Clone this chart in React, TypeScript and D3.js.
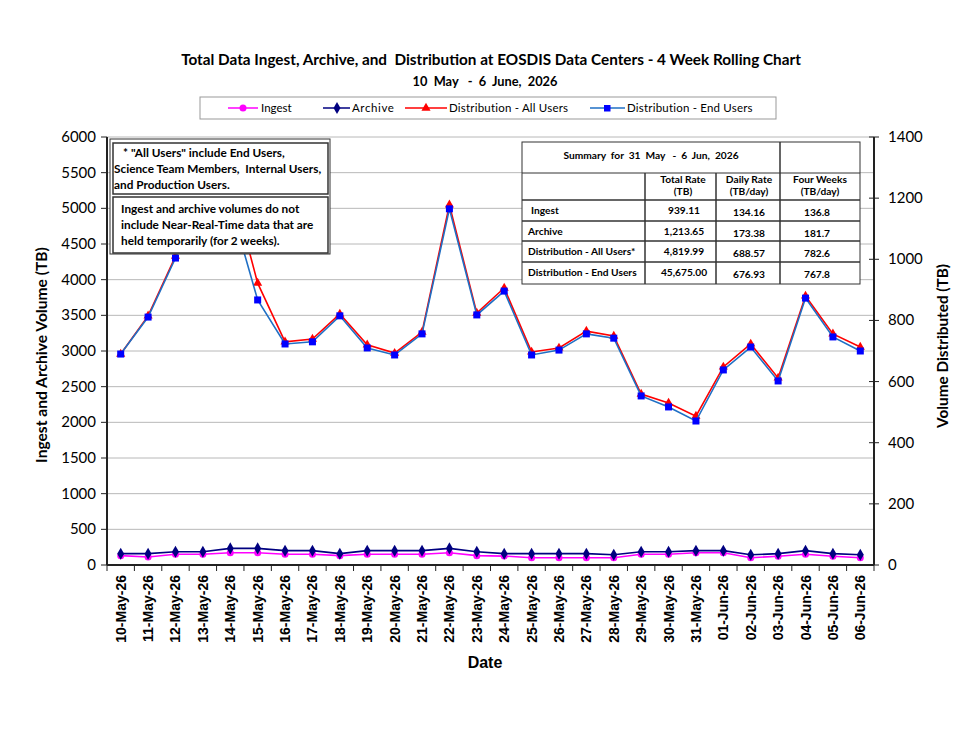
import React from "react";
import * as d3 from "d3";

const dates = ["10-May-26","11-May-26","12-May-26","13-May-26","14-May-26","15-May-26","16-May-26","17-May-26","18-May-26","19-May-26","20-May-26","21-May-26","22-May-26","23-May-26","24-May-26","25-May-26","26-May-26","27-May-26","28-May-26","29-May-26","30-May-26","31-May-26","01-Jun-26","02-Jun-26","03-Jun-26","04-Jun-26","05-Jun-26","06-Jun-26"];
const ingest = [131,112,151,151,171,171,151,151,131,151,151,151,171,131,125,102,102,102,102,151,151,171,171,102,123,151,123,102];
const archive = [159,159,186,186,233,233,201,201,159,201,201,201,233,186,159,159,159,159,143,186,186,201,201,143,159,201,159,143];
const distAll = [690,815,1010,1320,1260,922,730,739,821,720,693,762,1178,824,906,697,710,765,749,559,530,487,648,723,612,880,756,713];
const distEnd = [690,811,1004,1300,1180,867,723,730,815,710,687,756,1165,818,896,687,703,756,742,553,517,471,638,713,602,873,746,700];
const leftTicks = [0,500,1000,1500,2000,2500,3000,3500,4000,4500,5000,5500,6000];
const rightTicks = [0,200,400,600,800,1000,1200,1400];
const tableLabels = ["Ingest","Archive","Distribution - All Users*","Distribution - End Users"];
const tableTotal = ["939.11","1,213.65","4,819.99","45,675.00"];
const tableDaily = ["134.16","173.38","688.57","676.93"];
const tableFour = ["136.8","181.7","782.6","767.8"];

const CAL = "Lato, 'Open Sans', sans-serif";
const ARIAL = "'Liberation Sans', Arial, sans-serif";

export default function App() {
  const L = 107, R = 874, T = 137, B = 565;
  const x = d3.scaleBand<string>().domain(dates).range([L, R]);
  const cx = (i: number) => (x(dates[i]) as number) + x.bandwidth() / 2;
  const yL = d3.scaleLinear().domain([0, 6000]).range([B, T]);
  const yR = d3.scaleLinear().domain([0, 1400]).range([B, T]);
  const lineL = d3.line<number>().x((_, i) => cx(i)).y((d) => yL(d));
  const lineR = d3.line<number>().x((_, i) => cx(i)).y((d) => yR(d));
  const diamond = d3.symbol().type(d3.symbolDiamond).size(42)() as string;
  const tri = d3.symbol().type(d3.symbolTriangle).size(36)() as string;

  const MAG = "#ff00ff", NAVY = "#000080", RED = "#ff0000", BLUE = "#1f6fc5", SQ = "#0000ff";

  const tx = [522, 645, 716, 780, 860];
  const ty = [142, 173, 200, 221, 241, 262, 284];

  return (
    <svg width={972} height={729} style={{ position: "absolute", left: 0, top: 0, background: "#fff" }}>
      <rect width={972} height={729} fill="#fff" />
      <text x={491} y={65} textAnchor="middle" fontFamily={CAL} fontWeight="bold" fontSize={15.3} fill="#000" style={{ whiteSpace: "pre" }}>
        {"Total Data Ingest, Archive, and  Distribution at EOSDIS Data Centers - 4 Week Rolling Chart"}
      </text>
      <text x={485} y={86} textAnchor="middle" fontFamily={CAL} fontWeight="bold" fontSize={12.8} fill="#000" style={{ whiteSpace: "pre" }}>
        {"10  May   -  6  June,  2026"}
      </text>

      <rect x={200} y={97} width={576} height={22} fill="#fff" stroke="#999" />
      <g fontFamily={CAL} fontSize={11.5} fill="#000">
        <line x1={228} x2={258} y1={108} y2={108} stroke={MAG} strokeWidth={1.5} />
        <circle cx={243} cy={108} r={3.5} fill={MAG} />
        <text x={261} y={112}>Ingest</text>
        <line x1={323} x2={350} y1={108} y2={108} stroke={NAVY} strokeWidth={1.5} />
        <path d={diamond} transform="translate(337,108)" fill={NAVY} />
        <text x={352} y={112} letterSpacing={0.6}>Archive</text>
        <line x1={405} x2={447} y1={108} y2={108} stroke={RED} strokeWidth={1.5} />
        <path d={tri} transform="translate(426,108)" fill={RED} />
        <text x={449} y={112} letterSpacing={0.2}>Distribution - All Users</text>
        <line x1={590} x2={625} y1={108} y2={108} stroke={BLUE} strokeWidth={1.5} />
        <rect x={604} y={105} width={6.5} height={6.5} fill={SQ} />
        <text x={627} y={112} letterSpacing={0.2}>Distribution - End Users</text>
      </g>

      {leftTicks.map((t) => (
        <line key={"g" + t} x1={L} x2={R} y1={yL(t)} y2={yL(t)} stroke="#b8b8b8" strokeWidth={1} />
      ))}

      <line x1={L} x2={L} y1={T} y2={B} stroke="#222" strokeWidth={2} />
      <line x1={R} x2={R} y1={T} y2={B} stroke="#222" strokeWidth={2} />
      <line x1={L} x2={R} y1={B} y2={B} stroke="#222" strokeWidth={2} />
      {leftTicks.map((t) => (
        <g key={"lt" + t}>
          <line x1={L - 6} x2={L} y1={yL(t)} y2={yL(t)} stroke="#222" />
          <text x={96} y={yL(t) + 5} textAnchor="end" fontFamily={CAL} fontSize={15} fill="#000">{t}</text>
        </g>
      ))}
      {rightTicks.map((t) => (
        <g key={"rt" + t}>
          <line x1={R - 5} x2={R + 5} y1={yR(t)} y2={yR(t)} stroke="#222" />
          <text x={888} y={yR(t) + 5} fontFamily={CAL} fontSize={15} fill="#000">{t}</text>
        </g>
      ))}
      {dates.map((d, i) => (
        <g key={"xt" + d}>
          <line x1={x(d) as number} x2={x(d) as number} y1={B} y2={B + 6} stroke="#222" />
          <text transform={`translate(${cx(i) + 5},${575}) rotate(-90)`} textAnchor="end" fontFamily={ARIAL} fontWeight="bold" fontSize={14} fill="#000">{d}</text>
        </g>
      ))}
      <line x1={R} x2={R} y1={B} y2={B + 6} stroke="#222" />

      <text transform="translate(47,355) rotate(-90)" textAnchor="middle" fontFamily={CAL} fontWeight="bold" fontSize={15.6} fill="#000">Ingest and Archive Volume (TB)</text>
      <text transform="translate(948,346) rotate(-90)" textAnchor="middle" fontFamily={CAL} fontWeight="bold" fontSize={15.3} fill="#000">Volume Distributed (TB)</text>
      <text x={485} y={668} textAnchor="middle" fontFamily={ARIAL} fontWeight="bold" fontSize={16} fill="#000">Date</text>

      <path d={lineL(ingest) as string} fill="none" stroke={MAG} strokeWidth={1.6} />
      {ingest.map((v, i) => <circle key={"i" + i} cx={cx(i)} cy={yL(v)} r={3.5} fill={MAG} />)}
      <path d={lineL(archive) as string} fill="none" stroke={NAVY} strokeWidth={1.6} />
      {archive.map((v, i) => <path key={"a" + i} d={diamond} transform={`translate(${cx(i)},${yL(v)})`} fill={NAVY} />)}
      <path d={lineR(distAll) as string} fill="none" stroke={RED} strokeWidth={1.6} />
      {distAll.map((v, i) => <path key={"r" + i} d={tri} transform={`translate(${cx(i)},${yR(v)})`} fill={RED} />)}
      <path d={lineR(distEnd) as string} fill="none" stroke={BLUE} strokeWidth={1.6} />
      {distEnd.map((v, i) => <rect key={"b" + i} x={cx(i) - 3.5} y={yR(v) - 3.5} width={7} height={7} fill={SQ} />)}

      <rect x={110} y={139} width={220} height={115} fill="#fff" stroke="#333" strokeWidth={1} />
      <rect x={113} y={143} width={215} height={51} fill="#fff" stroke="#333" strokeWidth={1.5} />
      <rect x={113} y={197} width={215} height={56} fill="#fff" stroke="#333" strokeWidth={1.5} />
      <g fontFamily={CAL} fontWeight="bold" fontSize={11.8} fill="#000">
        <text x={123} y={157} style={{ whiteSpace: "pre" }}>{"* \"All Users\" include End Users,"}</text>
        <text x={114} y={173} style={{ whiteSpace: "pre" }}>{"Science Team Members,  Internal Users,"}</text>
        <text x={114} y={189}>and Production Users.</text>
        <text x={121} y={213}>Ingest and archive volumes do not</text>
        <text x={121} y={229}>include Near-Real-Time data that are</text>
        <text x={121} y={245}>held temporarily (for 2 weeks).</text>
      </g>

      <rect x={tx[0]} y={ty[0]} width={tx[4] - tx[0]} height={ty[6] - ty[0]} fill="#fff" stroke="#333" strokeWidth={1} />
      {ty.slice(1, 6).map((yy, k) => (
        <line key={"th" + k} x1={tx[0]} x2={tx[4]} y1={yy} y2={yy} stroke="#333" strokeWidth={k === 0 ? 1 : 1.5} />
      ))}
      <line x1={tx[1]} x2={tx[1]} y1={ty[1]} y2={ty[6]} stroke="#333" strokeWidth={1.5} />
      <line x1={tx[2]} x2={tx[2]} y1={ty[1]} y2={ty[6]} stroke="#333" strokeWidth={1.5} />
      <line x1={tx[3]} x2={tx[3]} y1={ty[0]} y2={ty[6]} stroke="#333" strokeWidth={1.5} />
      <g fontFamily={CAL} fontWeight="bold" fontSize={10.2} fill="#000">
        <text x={651} y={159} textAnchor="middle" style={{ whiteSpace: "pre" }}>{"Summary  for  31  May   -  6  Jun,  2026"}</text>
        <text x={683} y={183} textAnchor="middle">Total Rate</text>
        <text x={683} y={195} textAnchor="middle">(TB)</text>
        <text x={749} y={183} textAnchor="middle">Daily Rate</text>
        <text x={749} y={195} textAnchor="middle">(TB/day)</text>
        <text x={820} y={183} textAnchor="middle">Four Weeks</text>
        <text x={820} y={195} textAnchor="middle">(TB/day)</text>
        {tableLabels.map((lab, k) => (
          <g key={"tr" + k}>
            <text x={k === 0 ? 531 : 528} y={ty[k + 2] + 14}>{lab}</text>
            <text x={684} y={ty[k + 2] + 14} textAnchor="middle">{tableTotal[k]}</text>
            <text x={749} y={ty[k + 2] + 16} textAnchor="middle">{tableDaily[k]}</text>
            <text x={817} y={ty[k + 2] + 16} textAnchor="middle">{tableFour[k]}</text>
          </g>
        ))}
      </g>
    </svg>
  );
}
